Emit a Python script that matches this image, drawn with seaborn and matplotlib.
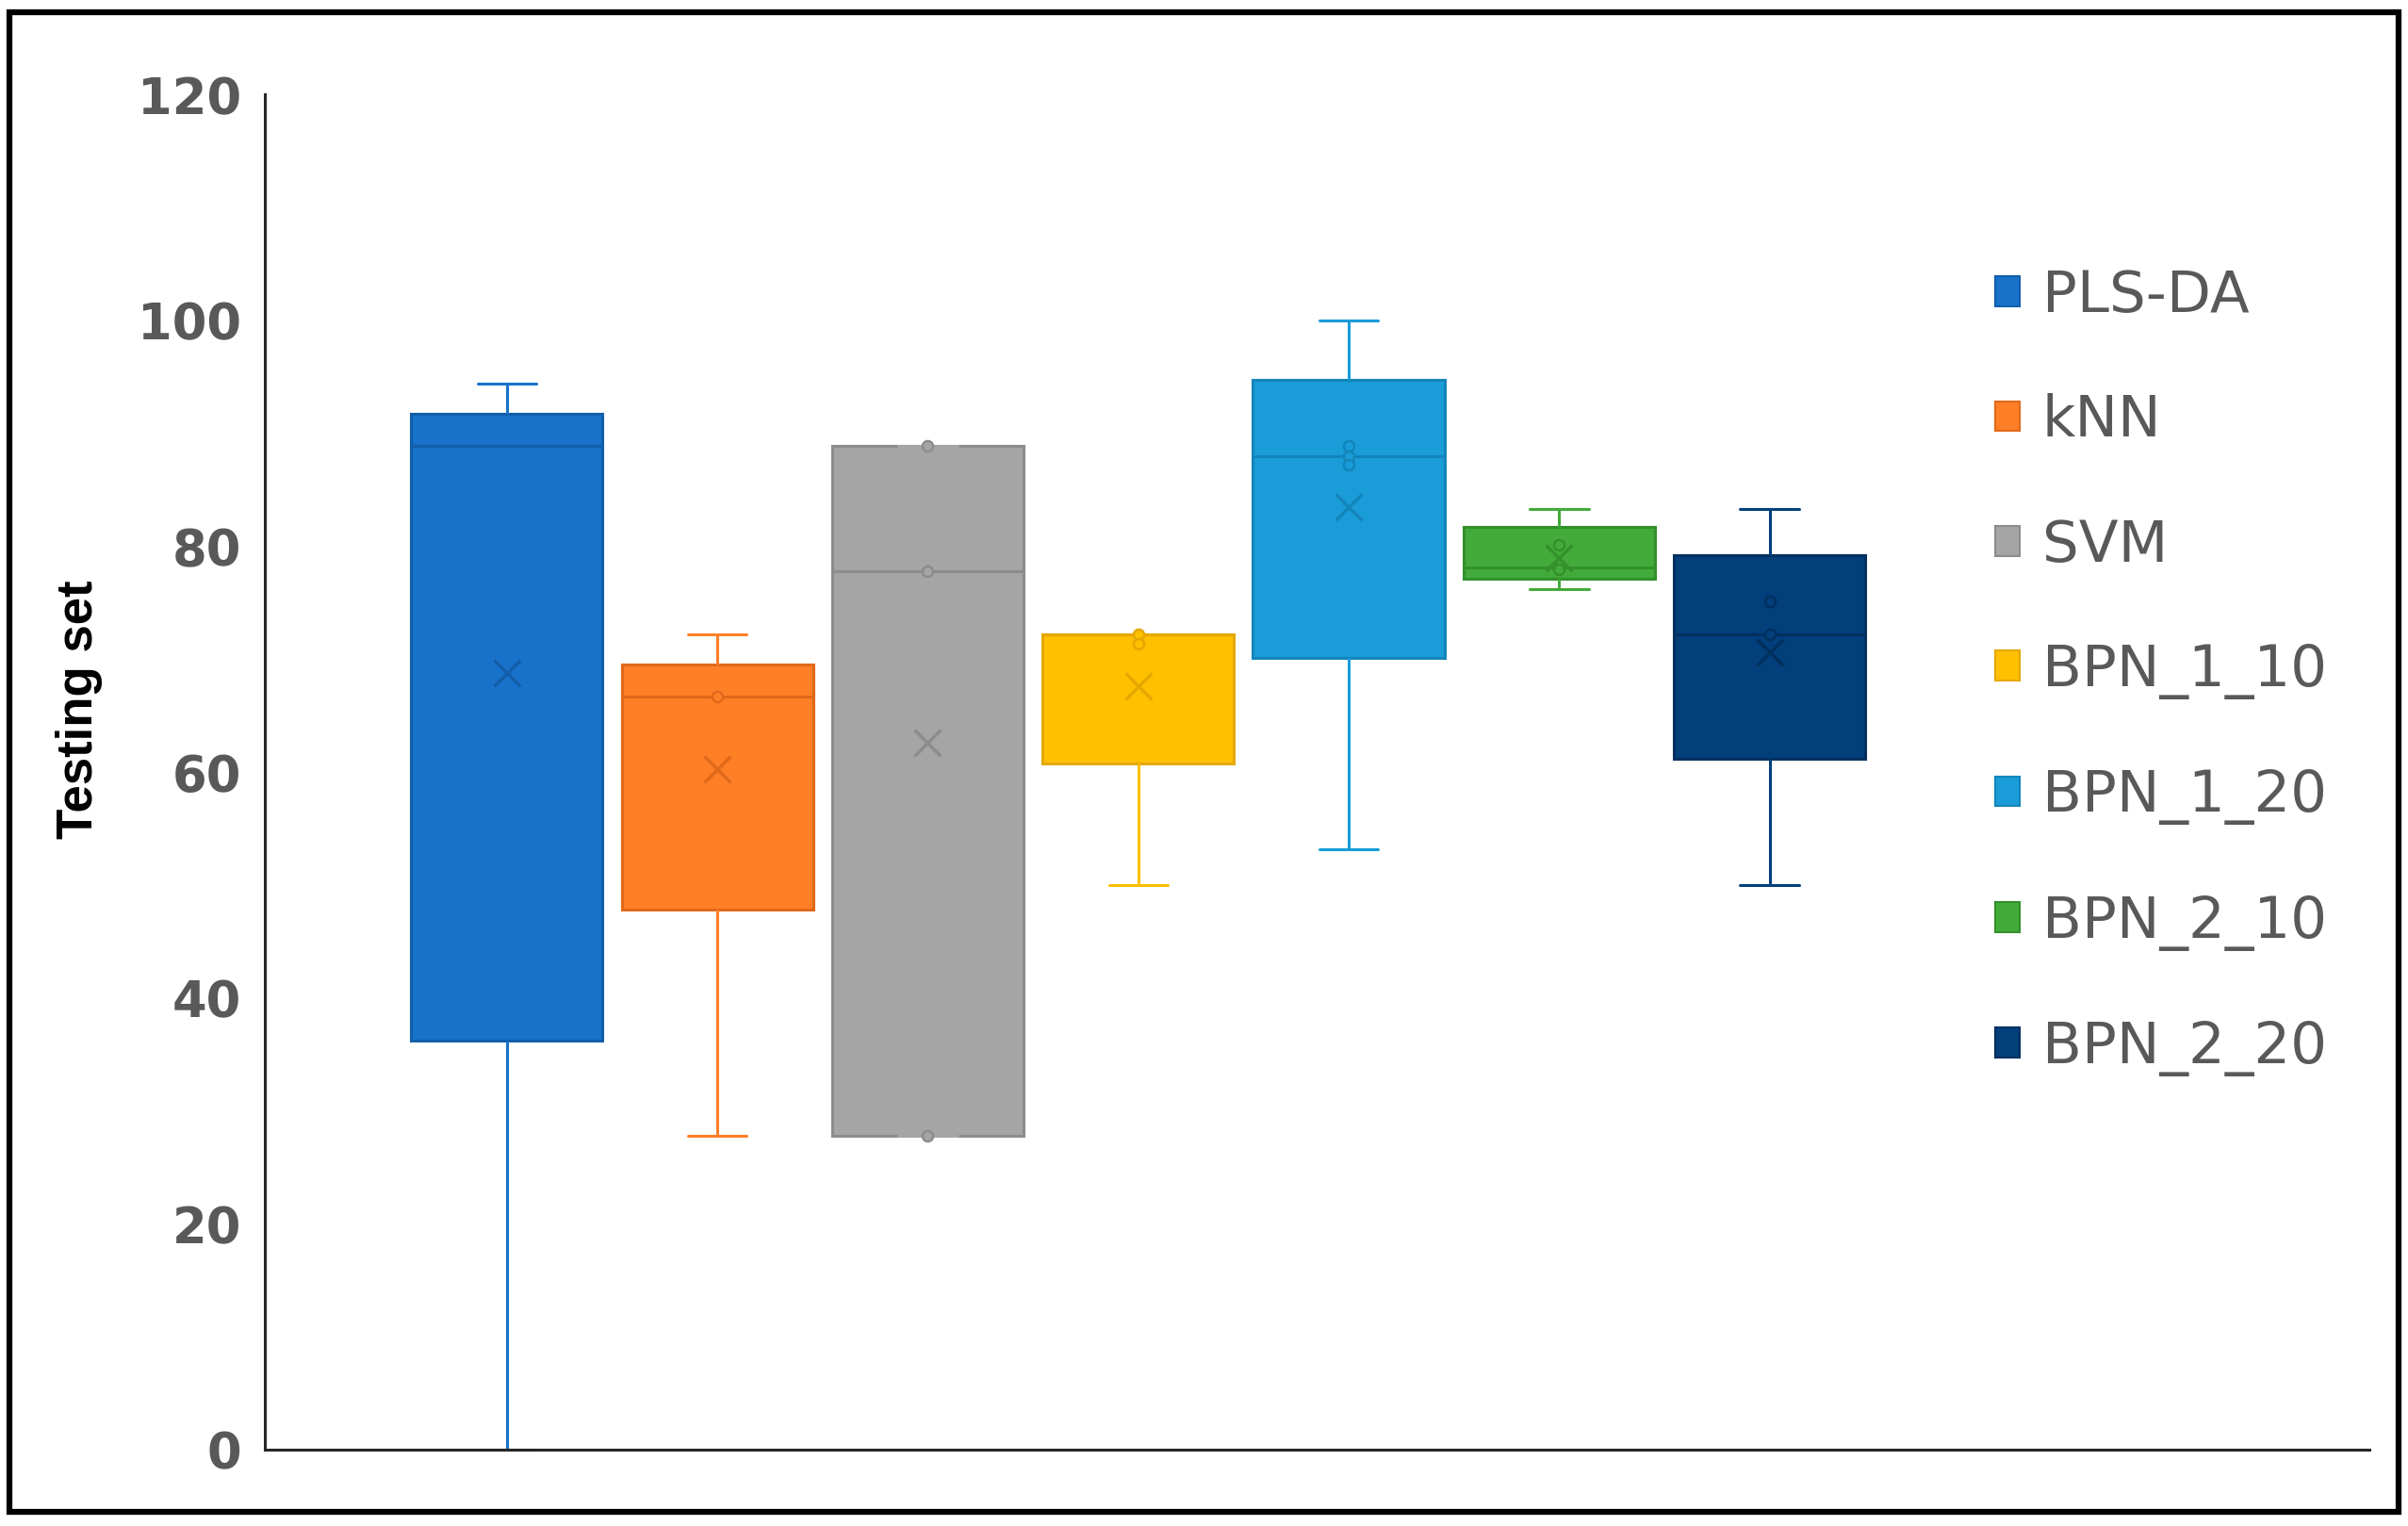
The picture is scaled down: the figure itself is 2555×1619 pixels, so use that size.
import numpy as np
import pandas as pd
import matplotlib
matplotlib.use("Agg")
import matplotlib.pyplot as plt
from matplotlib.patches import Patch, Rectangle
import seaborn as sns

# --- data (Excel box & whisker chart) ---
groups = ["PLS-DA", "kNN", "SVM", "BPN_1_10", "BPN_1_20", "BPN_2_10", "BPN_2_20"]
whisker_low = [0.0, 27.8, 27.8, 50.0, 53.2, 76.2, 50.0]
q1 = [36.2, 47.8, 27.8, 60.8, 70.1, 77.1, 61.2]
median = [88.9, 66.7, 77.8, 72.2, 88.0, 78.1, 72.2]
q3 = [91.7, 69.5, 88.9, 72.2, 94.7, 81.7, 79.2]
whisker_high = [94.4, 72.2, 88.9, 72.2, 100.0, 83.3, 83.3]
means = [68.8, 60.3, 62.6, 67.6, 83.5, 79.0, 70.6]

inner_groups = ["kNN", "SVM", "SVM", "SVM", "BPN_1_10", "BPN_1_10",
                "BPN_1_20", "BPN_1_20", "BPN_1_20",
                "BPN_2_10", "BPN_2_10", "BPN_2_20", "BPN_2_20"]
inner_values = [66.7, 88.9, 77.8, 27.8, 72.2, 71.4,
                88.9, 88.0, 87.2,
                80.1, 78.0, 75.1, 72.2]

face_colors = ["#1872C9", "#FF7F27", "#A5A5A5", "#FFC000", "#199CD8", "#43AB3A", "#023F7B"]
edge_colors = ["#115EAA", "#E0691A", "#8C8C8C", "#E5A800", "#1385BB", "#33912B", "#01305F"]

# five summary values per group -> percentiles reproduce the box exactly
rows = []
for i, g in enumerate(groups):
    for v in (whisker_low[i], q1[i], median[i], q3[i], whisker_high[i]):
        rows.append({"group": g, "value": v})
box_df = pd.DataFrame(rows)
mean_df = pd.DataFrame({"group": groups, "value": means})
inner_df = pd.DataFrame({"group": inner_groups, "value": inner_values})

sns.set_theme(style="white")
plt.rcParams["font.family"] = ["DejaVu Sans"]

fig = plt.figure(figsize=(25.55, 16.19), dpi=100)
ax = fig.add_axes([0.110, 0.050, 0.874, 0.888])

for g, fc, ec in zip(groups, face_colors, edge_colors):
    sub = box_df[box_df["group"] == g]
    sns.boxplot(
        data=sub, x="group", y="value", order=groups, ax=ax,
        color=fc, linecolor=ec, saturation=1, width=0.91,
        whis=(0, 100), linewidth=2.2, fliersize=0,
        whiskerprops=dict(color=fc, linewidth=2.2),
        capprops=dict(color=fc, linewidth=2.2),
        medianprops=dict(color=ec, linewidth=2.2),
        capwidths=0.28,
    )

    pts = inner_df[inner_df["group"] == g]
    if len(pts):
        sns.stripplot(
            data=pts, x="group", y="value", order=groups, ax=ax,
            color=fc, edgecolor=ec, linewidth=1.8, size=8,
            jitter=False, zorder=4,
        )

    m = mean_df[mean_df["group"] == g]
    sns.stripplot(
        data=m, x="group", y="value", order=groups, ax=ax,
        color=ec, marker="x", size=20, linewidth=2.5,
        jitter=False, zorder=5,
    )

ax.set_ylim(0, 120)
ax.set_xlim(-1.15, 8.85)
ax.set_yticks(range(0, 121, 20))
ax.set_xticks([])
ax.set_xlabel("")
ax.set_ylabel("Testing set", fontsize=38, fontweight="bold", color="black",
              family=["Liberation Sans", "DejaVu Sans"])
ax.yaxis.set_label_coords(-0.077, 0.546)
ax.tick_params(axis="y", length=0, pad=18, labelsize=38, labelcolor="#595959")
for lab in ax.get_yticklabels():
    lab.set_fontweight("bold")

for side in ("top", "right"):
    ax.spines[side].set_visible(False)
for side in ("left", "bottom"):
    ax.spines[side].set_color("#262626")
    ax.spines[side].set_linewidth(2.2)

handles = [Patch(facecolor=fc, edgecolor=ec, linewidth=1.5, label=g)
           for g, fc, ec in zip(groups, face_colors, edge_colors)]
fig.legend(handles=handles, loc="upper left", bbox_to_anchor=(0.807, 0.858),
           frameon=False, fontsize=44, labelcolor="#595959",
           handlelength=0.42, handleheight=0.42, handletextpad=0.4,
           labelspacing=1.2)

# outer black frame as in the reference image
fig.patches.append(Rectangle((0.004, 0.009), 0.992, 0.983, transform=fig.transFigure,
                             fill=False, edgecolor="black", linewidth=4.5))

fig.savefig("out.png", dpi=100)
